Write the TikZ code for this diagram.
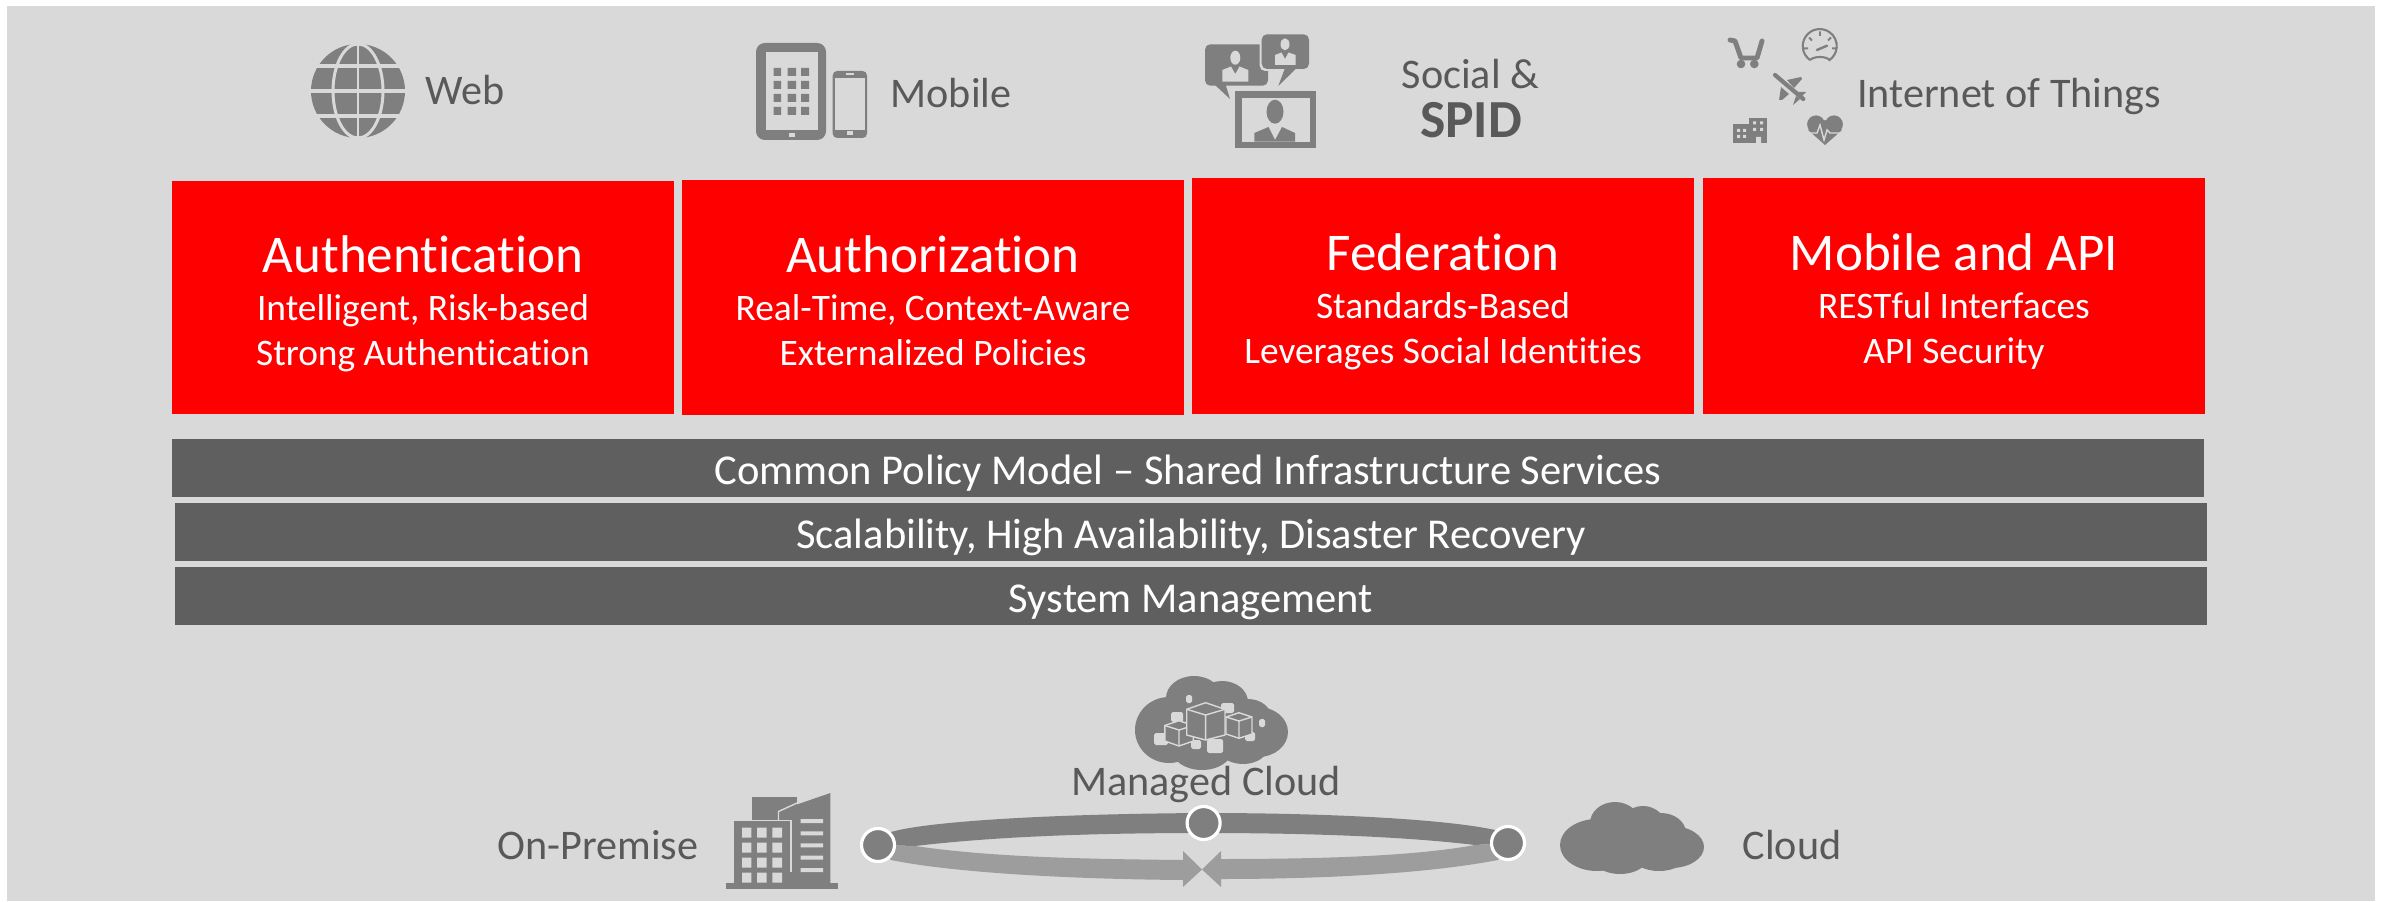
\documentclass[tikz,border=0pt]{standalone}
\usepackage{fontspec}
\setmainfont{Carlito}[Ligatures=CommonOff]
\usetikzlibrary{positioning}

\definecolor{panelgray}{HTML}{D9D9D9}
\definecolor{icongray}{HTML}{7F7F7F}
\definecolor{ribbongray}{HTML}{9D9D9D}
\definecolor{bargray}{HTML}{5F5F5F}
\definecolor{labelgray}{HTML}{595959}

\begin{document}
\begin{tikzpicture}[x=0.02cm, y=0.02cm]
	\tikzstyle{every node}+=[inner sep=0pt]
	\tikzstyle{redbox}=[fill=red, text=white, align=center, minimum width=10.04cm, font=\fontsize{21.3}{25.6}\selectfont]
	\tikzstyle{darkbar}=[fill=bargray, text=white, minimum height=1.16cm, text height=22.8pt, text depth=3.8pt, font=\fontsize{24.2}{30}\selectfont]
	\tikzstyle{toplabel}=[anchor=base, text=labelgray, font=\fontsize{24}{28}\selectfont]
	\tikzstyle{dot}=[circle, draw=white, line width=1.8pt, fill=icongray, minimum size=0.66cm]
	\useasboundingbox (0,0) rectangle (2386,-902);
	\fill [panelgray] (7,-6) rectangle (2375,-901);

	% globe
	\fill [icongray] (358,-91) circle (47);
	\draw [panelgray, line width=1.7pt] (358,-91) ellipse (25 and 47);
	\draw [panelgray, line width=1.7pt] (358,-44) -- (358,-138);
	\draw [panelgray, line width=2.6pt] (305,-66) -- (411,-66);
	\draw [panelgray, line width=2.6pt] (305,-91) -- (411,-91);
	\draw [panelgray, line width=2.6pt] (305,-116) -- (411,-116);
	\node (web) [toplabel] at (465,-105) {Web};

	% tablet and phone
	\fill [icongray, rounded corners=5pt] (756,-43) rectangle (826,-140);
	\fill [panelgray] (765.5,-52) rectangle (817.5,-130);
	\fill [icongray] (773.6,-68) rectangle (781,-76) (787.7,-68) rectangle (796,-76) (801,-68) rectangle (809,-76);
	\fill [icongray] (773.6,-81) rectangle (781,-89) (787.7,-81) rectangle (796,-89) (801,-81) rectangle (809,-89);
	\fill [icongray] (773.6,-94) rectangle (781,-102) (787.7,-94) rectangle (796,-102) (801,-94) rectangle (809,-102);
	\fill [icongray] (773.6,-107) rectangle (781,-115) (787.7,-107) rectangle (796,-115) (801,-107) rectangle (809,-115);
	\fill [panelgray] (788.5,-133) rectangle (794.5,-137);
	\fill [icongray, rounded corners=2.5pt] (832.7,-71) rectangle (867,-138);
	\fill [panelgray] (835,-78) rectangle (865,-130);
	\fill [panelgray] (847,-131.5) rectangle (853,-135.5);
	\fill [panelgray] (846,-73.5) rectangle (854,-75);
	\node (mobile) [toplabel] at (951,-107.5) {Mobile};

	% speech bubbles and frame
	\fill [icongray, rounded corners=3pt] (1205,-44.3) rectangle (1268,-85.7);
	\fill [icongray] (1215,-85) -- (1230,-99) -- (1225.7,-85) -- cycle;
	\fill [panelgray] (1235.3,-57.7) ellipse (5 and 7);
	\fill [panelgray] (1222.3,-81.7) -- (1222.3,-70) -- (1231,-66.5) -- (1235.3,-74) -- (1239.5,-66.5) -- (1248.3,-70) -- (1248.3,-81.7) -- cycle;
	\fill [panelgray, rounded corners=3pt] (1259.7,-32.3) rectangle (1311,-71);
	\fill [icongray, rounded corners=3pt] (1261.7,-34.3) rectangle (1309,-69);
	\fill [icongray] (1285,-68) -- (1278.3,-86) -- (1296.7,-68) -- cycle;
	\fill [panelgray] (1285,-44.3) ellipse (4.5 and 6);
	\fill [panelgray] (1275,-65) -- (1275,-55) -- (1281.5,-52.5) -- (1285,-59) -- (1288.5,-52.5) -- (1295.7,-55) -- (1295.7,-65) -- cycle;
	\fill [icongray] (1235,-90.7) rectangle (1315.7,-148.3);
	\fill [panelgray] (1241.7,-97.7) rectangle (1310,-141.7);
	\fill [icongray] (1275,-111.7) ellipse (8.5 and 12);
	\fill [icongray] (1254.3,-141.7) -- (1254.3,-133) -- (1268.5,-127) -- (1275,-140) -- (1282,-127) -- (1295,-133) -- (1295,-141.7) -- cycle;
	\node (social) [toplabel] at (1470.5,-88.5) {Social \&};
	\node (spid) [toplabel, font=\fontsize{30.5}{36}\selectfont\bfseries] at (1471,-138) {SPID};

	% things
	\draw [icongray, line width=2.8pt, line cap=round, line join=round] (1730,-40) -- (1735,-41) -- (1741,-58) -- (1757,-58) -- (1762,-41);
	\fill [icongray] (1741,-64) circle (4.3);
	\fill [icongray] (1754.3,-64) circle (4.3);
	\draw [icongray, line width=1.2pt] (1810,-60) arc (235:-55:17) .. controls (1826,-56) and (1814,-56) .. (1810,-60);
	\draw [icongray, line width=1.1pt] (1820,-31.5) -- (1820,-36) (1804,-48.3) -- (1808,-48.3) (1836,-48.3) -- (1832,-48.3) (1809,-37.5) -- (1812,-40.5) (1831,-37.5) -- (1828,-40.5);
	\draw [icongray, line width=1.4pt, line cap=round] (1817,-50) -- (1827,-45.7);
	\draw [icongray, line width=2.4pt, line cap=round] (1775,-75) -- (1803.3,-99);
	\fill [icongray] (1787,-80) -- (1801,-77) -- (1802,-79) -- (1794,-88) -- cycle;
	\fill [icongray] (1781,-87) -- (1779,-100) -- (1782,-100) -- (1789,-94) -- cycle;
	\fill [icongray] (1797,-92) -- (1806,-92) -- (1801,-97) -- cycle;
	\fill [icongray] (1796,-96) -- (1793,-105) -- (1800,-99) -- cycle;
	\fill [icongray] (1732.7,-124) rectangle (1750,-143.3);
	\fill [icongray] (1749.3,-117.7) rectangle (1767.3,-143.3);
	\fill [panelgray] (1737,-129) rectangle (1740,-132) (1743,-129) rectangle (1746,-132) (1737,-135) rectangle (1740,-138) (1743,-135) rectangle (1746,-138);
	\fill [panelgray] (1753,-121.5) rectangle (1756,-124.5) (1760,-121.5) rectangle (1763,-124.5) (1753,-128) rectangle (1756,-131) (1760,-128) rectangle (1763,-131) (1756,-137) rectangle (1761,-143.3);
	\fill [icongray] (1816,-124.3) circle (8.9);
	\fill [icongray] (1834,-124.3) circle (8.9);
	\fill [icongray] (1808,-130) -- (1825,-145) -- (1842,-130) -- (1825,-120) -- cycle;
	\draw [panelgray, line width=0.8pt] (1809,-133) -- (1817,-133) -- (1820,-125) -- (1824,-140) -- (1827,-130) -- (1830,-133) -- (1842,-133);
	\node (things) [toplabel] at (2009,-107.5) {Internet of Things};

	% service boxes
	\node (auth) [redbox, minimum height=4.66cm] at (423,-297.5) {\rule{0pt}{32pt}{\fontsize{30.2}{30}\selectfont Authentication}\\[1.7pt]Intelligent, Risk-based\\Strong Authentication\strut};
	\node (authz) [redbox, minimum height=4.7cm] at (933,-297.5) {\rule{0pt}{32pt}{\fontsize{30.2}{30}\selectfont Authorization}\\[1.7pt]Real-Time, Context-Aware\\Externalized Policies\strut};
	\node (fed) [redbox, minimum height=4.72cm] at (1443,-296) {\rule{0pt}{32pt}{\fontsize{30.2}{30}\selectfont Federation}\\[1.7pt]Standards-Based\\Leverages Social Identities\strut};
	\node (api) [redbox, minimum height=4.72cm] at (1954,-296) {\rule{0pt}{32pt}{\fontsize{30.2}{30}\selectfont Mobile and API}\\[1.7pt]RESTful Interfaces\\API Security\strut};

	% shared bars
	\node (policy) [darkbar, minimum width=40.64cm] at (1188,-468) {Common Policy Model -- Shared Infrastructure Services};
	\node (scale) [darkbar, minimum width=40.64cm] at (1191,-532) {Scalability, High Availability, Disaster Recovery};
	\node (sysmgmt) [darkbar, minimum width=40.64cm] at (1191,-596) {System Management};

	% building
	\fill [icongray] (726,-883) rectangle (837.6,-889);
	\fill [icongray] (752,-797) rectangle (797,-825);
	\fill [icongray] (733.6,-820.7) rectangle (791,-884);
	\fill [icongray] (778,-811) -- (830.4,-793) -- (830.4,-884) -- (778,-884) -- cycle;
	\draw [panelgray, line width=0.8pt] (778.5,-821) -- (778.5,-811.5) -- (797,-803);
	\draw [panelgray, line width=0.8pt] (733.6,-820.7) -- (791,-820.7) -- (791,-872);
	\fill [panelgray] (742,-827.7) rectangle (751.4,-837.7) (757,-827.7) rectangle (766.6,-837.7) (772.4,-827.7) rectangle (782,-837.7);
	\fill [panelgray] (742,-842.7) rectangle (751.4,-852.7) (757,-842.7) rectangle (766.6,-852.7) (772.4,-842.7) rectangle (782,-852.7);
	\fill [panelgray] (742,-857.7) rectangle (751.4,-867.7) (757,-857.7) rectangle (766.6,-867.7) (772.4,-857.7) rectangle (782,-867.7);
	\fill [panelgray] (742,-872.7) rectangle (751.4,-882.7) (757,-872.7) rectangle (766.6,-882.7) (772.4,-872.7) rectangle (782,-882.7);
	\fill [panelgray] (800.5,-819) rectangle (823,-823) (800.5,-831.3) rectangle (823,-835.3) (800.5,-843.3) rectangle (823,-847.3) (800.5,-855.7) rectangle (823,-859.7) (800.5,-868) rectangle (823,-872);
	\node (onprem) [toplabel] at (598,-859) {On-Premise};

	% managed cloud
	\fill [icongray] (1169,-730) ellipse (34 and 33);
	\fill [icongray] (1194,-698) ellipse (28 and 22);
	\fill [icongray] (1222,-702) ellipse (26 and 21);
	\fill [icongray] (1248,-717) ellipse (23 and 18);
	\fill [icongray] (1258,-732) ellipse (30 and 25);
	\fill [icongray] (1202,-750) ellipse (30 and 20);
	\fill [icongray] (1243,-747) ellipse (25 and 17);
	\fill [icongray] (1205,-725) ellipse (50 and 30);
	\fill [panelgray, rounded corners=1pt] (1154,-733) rectangle (1168,-745) (1171,-712) rectangle (1183,-722) (1207,-739) rectangle (1223,-753) (1191,-740) rectangle (1201,-749) (1245,-732) rectangle (1255,-741) (1186,-695) rectangle (1192,-703) (1259,-719) rectangle (1265,-727) (1221,-703) rectangle (1234,-713);
	\draw [panelgray, fill=icongray, line width=0.8pt] (1179,-720.7) -- (1193.4,-725.5) -- (1193.4,-741) -- (1179,-746) -- (1164.8,-741) -- (1164.8,-725.5) -- cycle;
	\draw [panelgray, line width=0.8pt] (1164.8,-725.5) -- (1179,-730) -- (1193.4,-725.5) (1179,-730) -- (1179,-746);
	\draw [panelgray, fill=icongray, line width=0.8pt] (1239,-712.7) -- (1252,-717) -- (1252,-734) -- (1239,-738.3) -- (1226,-734) -- (1226,-717) -- cycle;
	\draw [panelgray, line width=0.8pt] (1226,-717) -- (1239,-721) -- (1252,-717) (1239,-721) -- (1239,-738.3);
	\draw [panelgray, fill=icongray, line width=0.8pt] (1205.6,-702.7) -- (1225,-709.3) -- (1225,-735) -- (1205.6,-740) -- (1186.7,-735) -- (1186.7,-709.3) -- cycle;
	\draw [panelgray, line width=0.8pt] (1186.7,-709.3) -- (1205.6,-715) -- (1225,-709.3) (1205.6,-715) -- (1205.6,-740);
	\node (managed) [toplabel] at (1206,-795) {Managed Cloud};

	% cloud
	\fill [icongray] (1597,-845) ellipse (37 and 26);
	\fill [icongray] (1615,-823) ellipse (25 and 21);
	\fill [icongray] (1643,-827) ellipse (23 and 21);
	\fill [icongray] (1661,-833) ellipse (25 and 20);
	\fill [icongray] (1671,-847) ellipse (33 and 21);
	\fill [icongray] (1620,-857) ellipse (28 and 17);
	\fill [icongray] (1659,-855) ellipse (28 and 16);
	\node (cloud) [toplabel] at (1792,-859) {Cloud};

	% ring
	\coordinate (premc) at (878,-845);
	\coordinate (midc) at (1203.6,-823);
	\coordinate (cloudc) at (1508,-843);
	\coordinate (meet) at (1202,-869.5);
	\fill [icongray] (premc) -- (891,-832) .. controls (925,-822) and (1040,-814) .. (1203.6,-813) .. controls (1340,-813) and (1450,-820) .. (1495,-830) -- (cloudc) -- (1475,-845) .. controls (1400,-836) and (1300,-833) .. (1203.6,-833) .. controls (1100,-833) and (1000,-836) .. (915,-846) -- cycle;
	\fill [ribbongray] (premc) -- (891,-860) .. controls (950,-872) and (1060,-879) .. (1183,-880) -- (1183,-887) -- (meet) -- (1183,-851) -- (1183,-860) .. controls (1080,-859) and (990,-857) .. (915,-846) -- cycle;
	\fill [ribbongray] (cloudc) -- (1498,-860) .. controls (1430,-873) and (1330,-879) .. (1221,-879) -- (1221,-887) -- (meet) -- (1221,-851) -- (1221,-859) .. controls (1340,-859) and (1420,-855) .. (1475,-845) -- cycle;
	\node (premdot) [dot] at (premc) {};
	\node (manageddot) [dot] at (midc) {};
	\node (clouddot) [dot] at (cloudc) {};
\end{tikzpicture}
\end{document}
